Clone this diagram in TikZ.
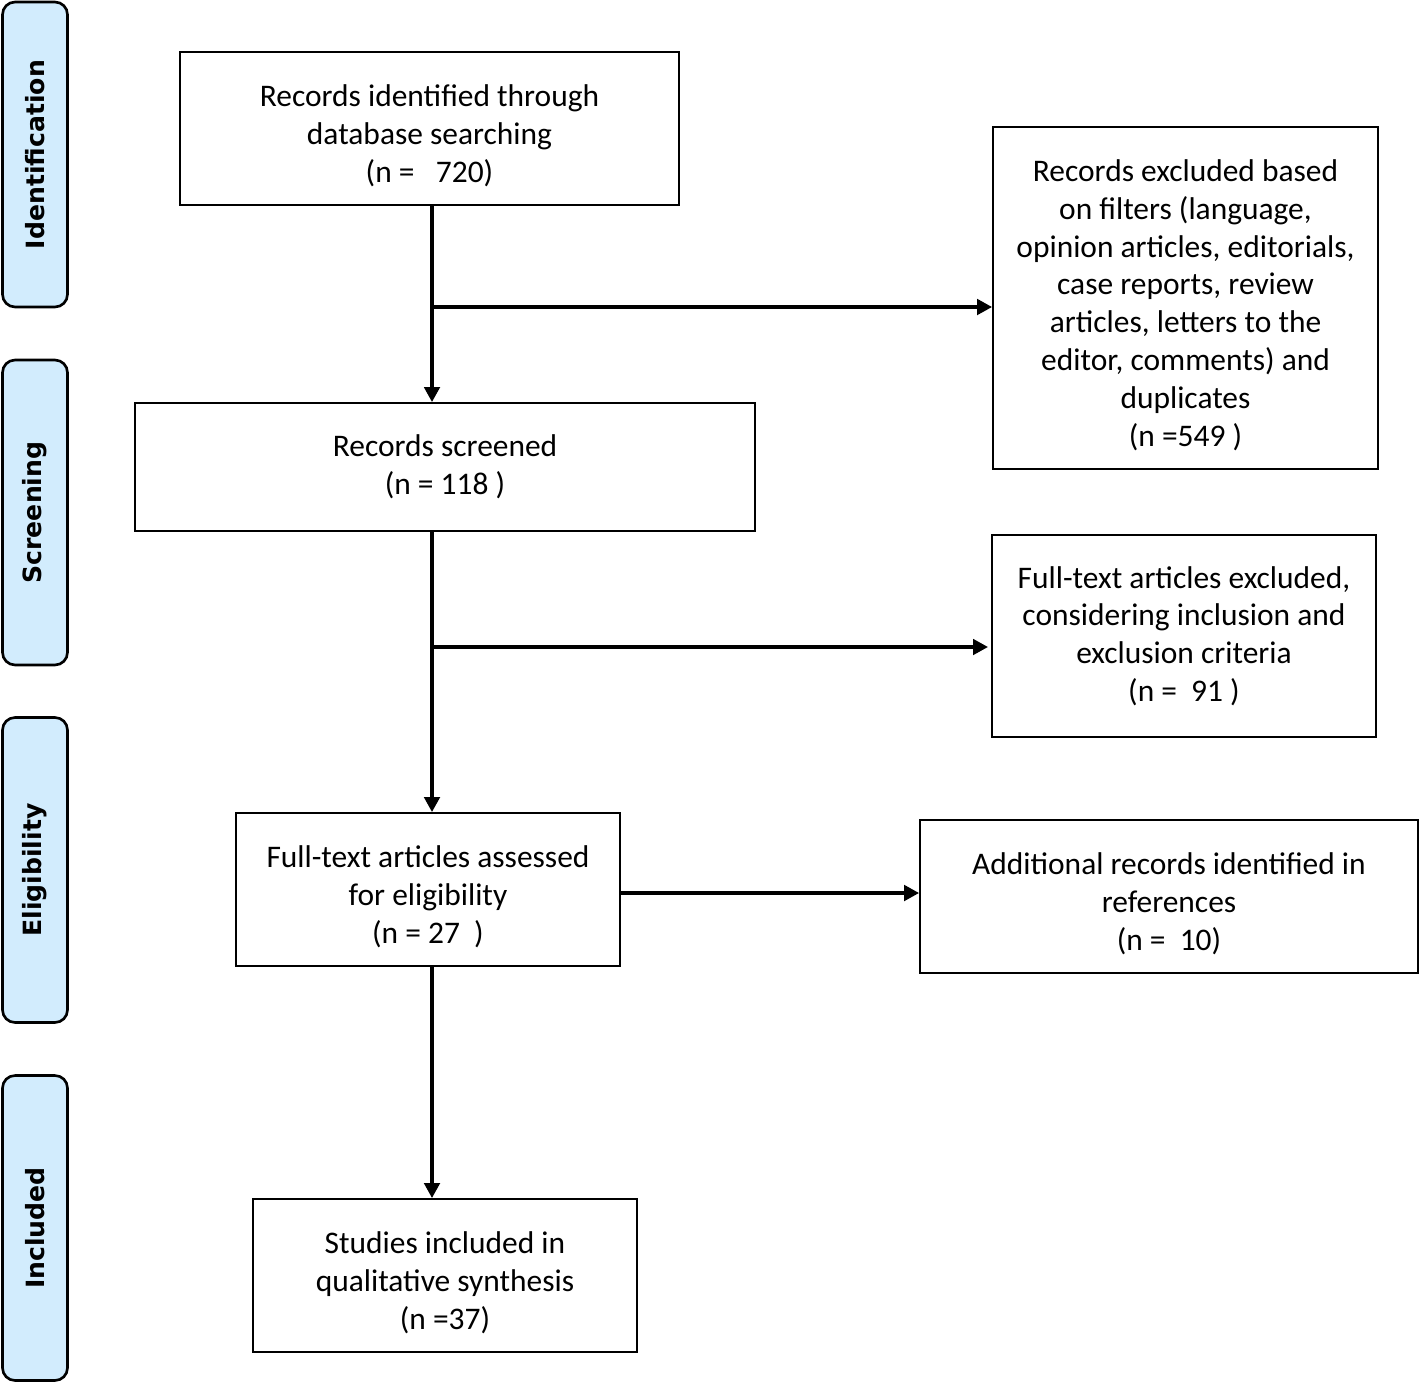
\documentclass[tikz,border=0pt]{standalone}
\usepackage{fontspec}
\setmainfont{Carlito}
\newfontfamily\stagefont{DejaVu Sans}
\usetikzlibrary{arrows.meta}
\definecolor{stageblue}{HTML}{D2ECFD}
\newcommand{\lowstrut}{\rule{0pt}{0.72cm}}

\begin{document}
\begin{tikzpicture}[
    x=0.02cm,y=-0.02cm,
    stage/.style={rectangle,rounded corners=0.25cm,draw=black,line width=1.5pt,fill=stageblue,
        minimum width=1.3cm,minimum height=6.1cm,inner sep=0pt},
    stagetext/.style={rotate=90,font=\stagefont\bfseries\fontsize{14.3}{17}\selectfont},
    box/.style={rectangle,draw=black,line width=1.1pt,align=center,inner sep=0pt,
        font=\fontsize{17.9}{21.5}\selectfont},
    flow/.style={-{Triangle[length=0.3cm,width=0.31cm]},line width=1.9pt},
]
    \useasboundingbox (0,0) rectangle (1420,1383);

    %%%
    % Stages on the left
    \node[stage] (sId) at (35,154.5) {};
    \node[stage] (sScr) at (35,512.5) {};
    \node[stage] (sEli) at (35,870) {};
    \node[stage] (sInc) at (35,1228) {};
    \node[stagetext] at (sId) {Identification};
    \node[stagetext] at (sScr) {Screening};
    \node[stagetext] at (sEli) {Eligibility};
    \node[stagetext] at (sInc) {Included};

    %%%
    % Boxes
    \node[box,minimum width=9.98cm,minimum height=3.06cm] (ident) at (429.5,128.5)
        {\lowstrut Records identified through\\database searching\\(n =~~~720)};
    \node[box,minimum width=7.7cm,minimum height=6.84cm] (excl) at (1185.5,298)
        {\lowstrut Records excluded based\\on filters (language,\\opinion articles, editorials,\\case reports, review\\articles, letters to the\\editor, comments) and\\duplicates\\(n =549 )};
    \node[box,minimum width=12.4cm,minimum height=2.56cm] (scr) at (445,467)
        {Records screened\\(n = 118 )};
    \node[box,minimum width=7.68cm,minimum height=4.04cm] (fexcl) at (1184,636)
        {Full-text articles excluded,\\considering inclusion and\\exclusion criteria\\(n =~~91 )};
    \node[box,minimum width=7.68cm,minimum height=3.06cm] (full) at (428,889.5)
        {\lowstrut Full-text articles assessed\\for eligibility\\(n = 27~~)};
    \node[box,minimum width=9.96cm,minimum height=3.06cm] (add) at (1169,896.5)
        {\lowstrut Additional records identified in\\references\\(n =~~10)};
    \node[box,minimum width=7.68cm,minimum height=3.06cm] (incl) at (445,1275.5)
        {\lowstrut Studies included in\\qualitative synthesis\\(n =37)};

    %%%
    % Connectors
    \coordinate (trunk) at (432,0);
    \coordinate (b1) at (432,307);
    \coordinate (b2) at (432,647);
    \coordinate (e2) at (988,647);
    \draw[flow] (ident.south -| trunk) -- (scr.north -| trunk);
    \draw[flow] (b1) -- (b1 -| excl.west);
    \draw[flow] (scr.south -| trunk) -- (full.north -| trunk);
    \draw[flow] (b2) -- (e2);
    \draw[flow] (full.east |- 0,893) -- (add.west |- 0,893);
    \draw[flow] (full.south -| trunk) -- (incl.north -| trunk);

\end{tikzpicture}
\end{document}
